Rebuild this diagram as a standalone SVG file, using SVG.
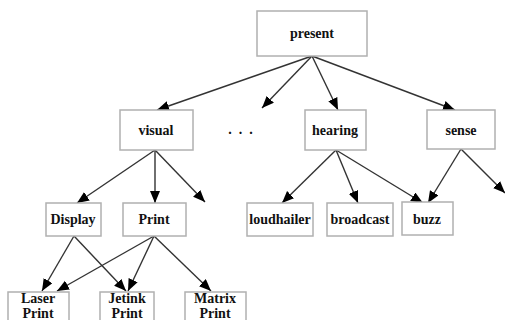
<svg xmlns="http://www.w3.org/2000/svg" width="505" height="320" viewBox="0 0 505 320">
<style>
.box{fill:#fff;stroke:#b0b0b0;stroke-width:1.5}
.lbl{font-family:"Liberation Serif","Times New Roman",serif;font-weight:bold;font-size:14px;fill:#111;text-anchor:middle}
.edge{stroke:#333;stroke-width:1.4;fill:none;marker-end:url(#ah)}
</style>
<defs>
<marker id="ah" markerUnits="userSpaceOnUse" markerWidth="13" markerHeight="11" refX="12" refY="5" orient="auto">
<path d="M0,0 L12,5 L0,10 z" fill="#000"/>
</marker>
</defs>
<rect width="505" height="320" fill="#fff"/>
<g id="connectors">
<line class="edge" x1="312" y1="56" x2="157" y2="110"/>
<line class="edge" x1="312" y1="56" x2="262" y2="108"/>
<line class="edge" x1="312" y1="56" x2="338" y2="110"/>
<line class="edge" x1="312" y1="56" x2="455" y2="110"/>
<line class="edge" x1="155" y1="150" x2="77" y2="203"/>
<line class="edge" x1="155" y1="150" x2="155" y2="203"/>
<line class="edge" x1="155" y1="150" x2="205" y2="202"/>
<line class="edge" x1="336" y1="150" x2="282" y2="203"/>
<line class="edge" x1="336" y1="150" x2="358" y2="203"/>
<line class="edge" x1="336" y1="150" x2="423" y2="203"/>
<line class="edge" x1="461" y1="149" x2="428" y2="203"/>
<line class="edge" x1="461" y1="149" x2="505" y2="193"/>
<line class="edge" x1="74" y1="236" x2="42" y2="291"/>
<line class="edge" x1="74" y1="236" x2="126" y2="291"/>
<line class="edge" x1="154" y1="236" x2="57" y2="291"/>
<line class="edge" x1="154" y1="236" x2="128" y2="291"/>
<line class="edge" x1="154" y1="236" x2="211" y2="291"/>
</g>
<g id="present"><rect class="box" x="257" y="11" width="110" height="45"/><text class="lbl" x="312" y="38">present</text></g>
<g id="visual"><rect class="box" x="120" y="110" width="73" height="40"/><text class="lbl" x="156" y="135">visual</text></g>
<g id="dots"><text class="lbl" x="244" y="134" letter-spacing="7" font-size="16">...</text></g>
<g id="hearing"><rect class="box" x="305" y="110" width="61" height="40"/><text class="lbl" x="335" y="135">hearing</text></g>
<g id="sense"><rect class="box" x="427" y="110" width="68" height="39"/><text class="lbl" x="461" y="135">sense</text></g>
<g id="display"><rect class="box" x="46" y="203" width="55" height="33"/><text class="lbl" x="73" y="224">Display</text></g>
<g id="print"><rect class="box" x="123" y="203" width="63" height="33"/><text class="lbl" x="154" y="224">Print</text></g>
<g id="loudhailer"><rect class="box" x="247" y="203" width="66" height="33"/><text class="lbl" x="280" y="224">loudhailer</text></g>
<g id="broadcast"><rect class="box" x="327" y="203" width="66" height="33"/><text class="lbl" x="360" y="224">broadcast</text></g>
<g id="buzz"><rect class="box" x="402" y="202" width="51" height="33"/><text class="lbl" x="427" y="224">buzz</text></g>
<g id="laser"><rect class="box" x="8" y="292" width="61" height="40"/><text class="lbl" x="38" y="303">Laser</text><text class="lbl" x="38" y="318">Print</text></g>
<g id="jetink"><rect class="box" x="100" y="292" width="54" height="40"/><text class="lbl" x="127" y="303">Jetink</text><text class="lbl" x="127" y="318">Print</text></g>
<g id="matrix"><rect class="box" x="185" y="292" width="61" height="40"/><text class="lbl" x="215" y="303">Matrix</text><text class="lbl" x="215" y="318">Print</text></g>
</svg>
